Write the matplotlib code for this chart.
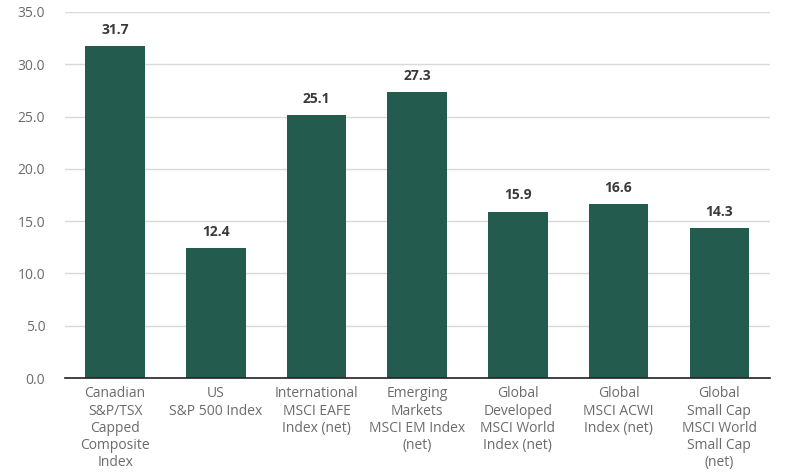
import matplotlib.pyplot as plt

plt.rcParams['font.family'] = ['Open Sans', 'DejaVu Sans']

# -------------------------------------------------
# Data
# -------------------------------------------------
categories = [
    "Canadian\nS&P/TSX\nCapped\nComposite\nIndex",
    "US\nS&P 500 Index",
    "International\nMSCI EAFE\nIndex (net)",
    "Emerging\nMarkets\nMSCI EM Index\n(net)",
    "Global\nDeveloped\nMSCI World\nIndex (net)",
    "Global\nMSCI ACWI\nIndex (net)",
    "Global\nSmall Cap\nMSCI World\nSmall Cap\n(net)",
]
values = [31.7, 12.4, 25.1, 27.3, 15.9, 16.6, 14.3]
y_ticks = [0, 5, 10, 15, 20, 25, 30, 35]

bar_color = "#235B4E"
label_grey = "#6b6b6b"

fig = plt.figure(figsize=(8, 4.75), dpi=100)
ax = fig.add_axes([0.081, 0.204, 0.881, 0.771])

x = range(len(categories))
bars = ax.bar(x, values, width=0.59, color=bar_color, zorder=3)

# value labels above bars
for b, v in zip(bars, values):
    ax.text(b.get_x() + b.get_width() / 2, v + 0.9, f"{v:.1f}",
            ha="center", va="bottom", fontsize=10, fontweight="bold",
            color="#3a3a3a")

ax.set_xlim(-0.5, len(categories) - 0.5)
ax.set_ylim(0, 35)
ax.set_yticks(y_ticks)
ax.set_yticklabels([f"{t:.1f}" for t in y_ticks])
ax.set_xticks(list(x))
ax.set_xticklabels(categories, linespacing=1.2)

ax.yaxis.grid(True, color="#d9d9d9", linewidth=1, zorder=0)
ax.set_axisbelow(True)
for side in ["top", "right", "left"]:
    ax.spines[side].set_visible(False)
ax.spines["bottom"].set_color("#222222")
ax.spines["bottom"].set_linewidth(1.2)
ax.spines["bottom"].set_zorder(4)

ax.tick_params(axis="both", length=0, labelsize=10, labelcolor=label_grey)
ax.tick_params(axis="x", pad=6)
ax.tick_params(axis="y", pad=14)

fig.savefig("out.png", dpi=100)
